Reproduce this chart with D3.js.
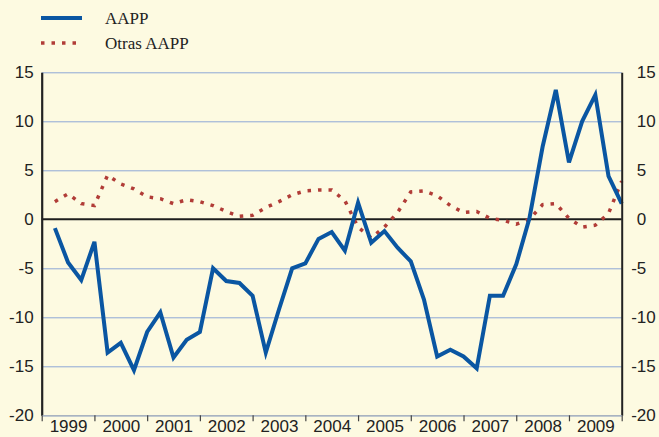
<!DOCTYPE html>
<html>
<head>
<meta charset="utf-8">
<script src="https://cdn.jsdelivr.net/npm/d3@7"></script>
<style>
	body { margin: 0; background: #fdfae1; }
	svg { display: block; font-family: "Liberation Serif", "Times New Roman", serif; }
	.grid line { stroke: #8ea7d6; stroke-width: 1; }
	.grid path { display: none; }
	.axis text { font-size: 17px; fill: #222; }
	.line-aapp { fill: none; stroke: #0a56a2; stroke-width: 4; stroke-linejoin: miter; }
	.line-otras { fill: none; stroke: #b13c37; stroke-width: 3.5; stroke-dasharray: 3.5 7; }
</style>
</head>
<body>
<div id="chart"></div>
<script>
// quarterly series, 1999 Q1 .. 2009 Q4
let years = [1999, 2000, 2001, 2002, 2003, 2004, 2005, 2006, 2007, 2008, 2009];
let quarters = [1, 2, 3, 4];
let aapp = [
	-0.9, -4.4, -6.2, -2.3,
	-13.6, -12.6, -15.4, -11.5,
	-9.5, -14.1, -12.3, -11.5,
	-5.0, -6.3, -6.5, -7.8,
	-13.6, -9.2, -5.0, -4.5,
	-2.0, -1.3, -3.2, 1.7,
	-2.4, -1.2, -2.9, -4.3,
	-8.2, -14.0, -13.3, -14.0,
	-15.2, -7.8, -7.8, -4.6,
	0.1, 7.4, 13.2, 5.8,
	10.0, 12.7, 4.4, 1.6
];
let otras = [
	1.8, 2.6, 1.6, 1.4,
	4.5, 3.6, 3.1, 2.3,
	2.1, 1.6, 2.0, 1.8,
	1.4, 0.8, 0.3, 0.4,
	1.2, 1.8, 2.5, 2.9,
	3.0, 3.0, 1.9, -0.8,
	-1.9, -0.8, 0.7, 2.8,
	2.9, 2.4, 1.4, 0.7,
	0.8, 0.1, -0.1, -0.5,
	0.0, 1.5, 1.6, 0.1,
	-0.8, -0.6, 0.6, 3.9
];
let yTicks = [15, 10, 5, 0, -5, -10, -15, -20];
let seriesNames = ["AAPP", "Otras AAPP"];

let drawChart = function (parent) {
	let fullWidth = 659;
	let fullHeight = 437;
	let margin = { top: 72.3, right: 37.3, bottom: 21.7, left: 41.7 };
	let width = fullWidth - margin.left - margin.right;
	let height = fullHeight - margin.top - margin.bottom;

	let svg = d3.select(parent).append("svg")
		.attr("width", fullWidth)
		.attr("height", fullHeight);

	let g = svg.append("g")
		.attr("transform", `translate(${margin.left}, ${margin.top})`);

	//scales: x in fractional years, each quarter drawn at its end
	let x = d3.scaleLinear().domain([1999, 2010]).range([0, width]);
	let y = d3.scaleLinear().domain([-20, 15]).range([height, 0]);

	let rows = [];
	years.forEach((yr, yi) => quarters.forEach((q, qi) => {
		let i = yi * 4 + qi;
		rows.push({ t: yr + q / 4, aapp: aapp[i], otras: otras[i] });
	}));

	//gridlines
	g.append("g")
		.attr("class", "grid")
		.call(d3.axisLeft(y).tickValues(yTicks.filter(d => d != 0)).tickSize(-width).tickFormat(""));

	//zero line
	g.append("line")
		.attr("x1", 0)
		.attr("x2", width)
		.attr("y1", y(0))
		.attr("y2", y(0))
		.attr("stroke", "#1e1e1e")
		.attr("stroke-width", 2);

	let lineOtras = d3.line().x(d => x(d.t)).y(d => y(d.otras));
	let lineAapp = d3.line().x(d => x(d.t)).y(d => y(d.aapp));

	g.append("path")
		.attr("class", "line-otras")
		.attr("d", lineOtras(rows));
	g.append("path")
		.attr("class", "line-aapp")
		.attr("d", lineAapp(rows));

	//left axis
	let left = g.append("g")
		.attr("class", "axis")
		.call(d3.axisLeft(y).tickValues(yTicks).tickSize(0).tickSizeOuter(0).tickPadding(8).tickFormat(d => String(d)));
	left.select(".domain").attr("stroke", "#222").attr("stroke-width", 2.2);

	//right axis, minus sign hangs left of the digits
	let right = g.append("g")
		.attr("class", "axis")
		.attr("transform", `translate(${width}, 0)`)
		.call(d3.axisRight(y).tickValues(yTicks).tickSize(0).tickSizeOuter(0).tickPadding(15).tickFormat(d => String(d)));
	right.select(".domain").attr("stroke", "#222").attr("stroke-width", 2);
	right.selectAll("text").attr("x", d => d < 0 ? 9.5 : 15);

	//bottom axis: year ticks, labels centred in each year
	let bottom = g.append("g")
		.attr("class", "axis")
		.attr("transform", `translate(0, ${height})`)
		.call(d3.axisBottom(x).tickValues(d3.range(1999, 2011)).tickSize(6).tickSizeOuter(0).tickFormat(""));
	bottom.select(".domain").attr("stroke", "#a9b3c0").attr("stroke-width", 1.5);
	bottom.selectAll(".tick line").attr("stroke", "#444").attr("stroke-width", 1.2);

	g.append("g")
		.attr("class", "axis")
		.attr("transform", `translate(0, ${height})`)
		.call(d3.axisBottom(x).tickValues(years.map(d => d + 0.5)).tickSize(0).tickPadding(0).tickFormat(d => Math.floor(d)))
		.call(a => a.select(".domain").remove())
		.selectAll("text")
		.attr("y", 16.8)
		.attr("dy", null);

	//legend
	let legend = svg.append("g").attr("class", "axis");
	let legendY = [18, 43];
	legend.selectAll("line")
		.data(seriesNames)
		.enter()
		.append("line")
		.attr("x1", 41)
		.attr("x2", 82)
		.attr("y1", (d, i) => legendY[i])
		.attr("y2", (d, i) => legendY[i])
		.attr("class", (d, i) => i == 0 ? "line-aapp" : "line-otras");
	legend.selectAll("text")
		.data(seriesNames)
		.enter()
		.append("text")
		.attr("x", 105)
		.attr("y", (d, i) => legendY[i])
		.attr("dy", "0.35em")
		.text(d => d);

	return svg.node();
};

drawChart(d3.select("#chart").node());
</script>
</body>
</html>
